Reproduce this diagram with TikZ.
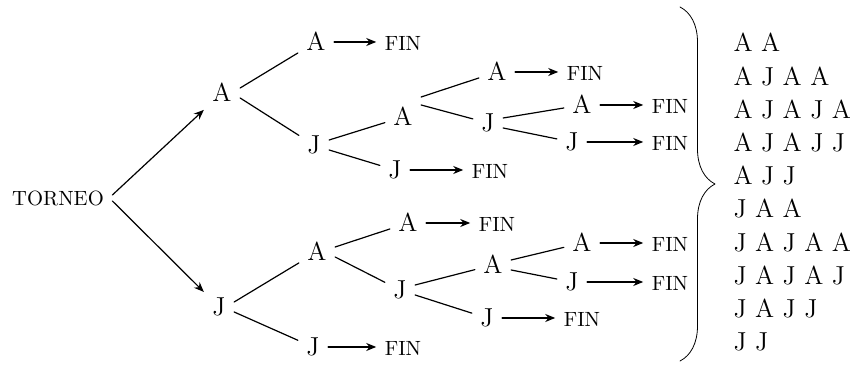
\documentclass[tikz,border=0pt]{standalone}
\usetikzlibrary{decorations.pathreplacing,arrows.meta}
\begin{document}
\begin{tikzpicture}[>={Stealth[length=5pt,width=4pt]},line join=round,line cap=round,x=.5pt,y=-.5pt,semithick,
	lt/.style={font=\fontsize{13}{15}\selectfont,inner sep=4pt,text height=9pt,text depth=0pt},
	sm/.style={font=\fontsize{10.3}{12}\selectfont,inner sep=4pt,text height=9pt,text depth=0pt},
	up/.style={yshift=2.5pt},dn/.style={yshift=-2.5pt}]
	\useasboundingbox (0,0) rectangle (859,367);
	% tree
	\path (58,197)node[sm](tor){TORNEO}
	(222,93)node[lt](a){A}
	(219,307)node[lt](j){J}
	(316,42)node[lt](aa){A}
	(314,145)node[lt](aj){J}
	(403,117)node[lt](aja){A}
	(395,170)node[lt](ajj){J}
	(497,72)node[lt](ajaa){A}
	(488,123)node[lt](ajaj){J}
	(582,105)node[lt](ajaja){A}
	(572,142)node[lt](ajajj){J}
	(317,252)node[lt](ja){A}
	(313,347)node[lt](jj){J}
	(408,223)node[lt](jaa){A}
	(400,290)node[lt](jaj){J}
	(493,265)node[lt](jaja){A}
	(487,318)node[lt](jajj){J}
	(582,243)node[lt](jajaa){A}
	(572,282)node[lt](jajaj){J}
	;
	% FIN
	\path (403,42)node[sm](f1){FIN}
	(490,170)node[sm](f2){FIN}
	(585,72)node[sm](f3){FIN}
	(670,105)node[sm](f4){FIN}
	(670,142)node[sm](f5){FIN}
	(403,347)node[sm](f6){FIN}
	(497,223)node[sm](f7){FIN}
	(582,318)node[sm](f8){FIN}
	(670,243)node[sm](f9){FIN}
	(670,282)node[sm](f10){FIN}
	;
	\draw[->] ([yshift=1pt]tor.east)--(a);
	\draw[->] ([yshift=-2pt]tor.east)--(j);
	\draw ([up]a.east)--(aa) ([dn]a.east)--(aj)
	([up]aj.east)--(aja) ([dn]aj.east)--(ajj)
	([yshift=10pt]aja.east)--(ajaa) ([yshift=6pt]aja.east)--(ajaj)
	([up]ajaj.east)--(ajaja) ([dn]ajaj.east)--(ajajj)
	([up]j.east)--(ja) ([dn]j.east)--(jj)
	([up]ja.east)--(jaa) ([dn]ja.east)--(jaj)
	([up]jaj.east)--(jaja) ([dn]jaj.east)--(jajj)
	([up]jaja.east)--(jajaa) ([dn]jaja.east)--(jajaj)
	;
	\draw[->] (aa)--(f1);
	\draw[->] (ajj)--(f2);
	\draw[->] (ajaa)--(f3);
	\draw[->] (ajaja)--(f4);
	\draw[->] (ajajj)--(f5);
	\draw[->] (jj)--(f6);
	\draw[->] (jaa)--(f7);
	\draw[->] (jajj)--(f8);
	\draw[->] (jajaa)--(f9);
	\draw[->] (jajaj)--(f10);
	% brace
	\coordinate (bt) at (680,7);
	\coordinate (bb) at (680,361);
	\draw[thin,decorate,decoration={brace,amplitude=17.5pt}] (bt)--(bb);
	% lista
	\foreach \s [count=\i] in {A A,A J A A,A J A J A,A J A J J,A J J,J A A,J A J A A,J A J A J,J A J J,J J}
	\node[lt,anchor=west,inner sep=0pt] (r\i) at (733,{43+33.2*(\i-1)}) {\s};
\end{tikzpicture}
\end{document}
